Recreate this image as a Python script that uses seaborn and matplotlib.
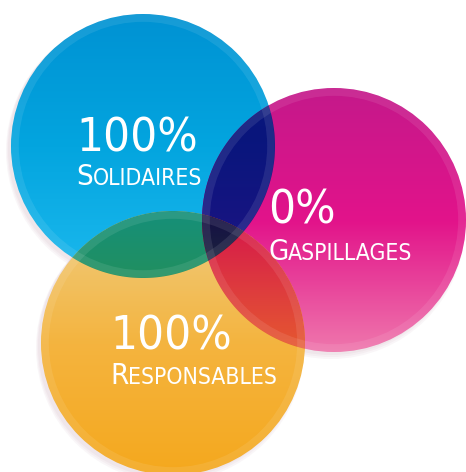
import numpy as np
import matplotlib
matplotlib.use("Agg")
import matplotlib.pyplot as plt
from matplotlib.patches import Circle, Polygon
from itertools import combinations
import seaborn as sns

# content of the picture
pct_values = [100, 0, 100]
words = ["Solidaires", "Gaspillages", "Responsables"]

# vertical colour stops of each disc (top -> bottom)
blue_stops = ["#0092d3", "#03a5df", "#1cb9ee"]
pink_stops = ["#c4198b", "#e2138a", "#ef78ad"]
yellow_stops = ["#efcd82", "#f4b43f", "#f5a81d"]

sns.set_theme(style="white")
plt.rcParams["font.family"] = ["DejaVu Sans"]
plt.rcParams["font.stretch"] = "condensed"

W, H = 466, 472
fig = plt.figure(figsize=(W / 100, H / 100), dpi=100)
ax = fig.add_axes([0, 0, 1, 1])

centers = [(143, 146), (334, 220), (173, 343)]
radius = 132
stops = [blue_stops, pink_stops, yellow_stops]

ys = np.arange(H) + 0.5
grads = []
for (cx, cy), st in zip(centers, stops):
    pal = np.array(sns.blend_palette(st, n_colors=256))
    t = np.clip((ys - (cy - radius)) / (2 * radius), 0, 1)
    grads.append(pal[(t * 255).astype(int)])


def region_poly(idx):
    pts = []
    th = np.linspace(0, 2 * np.pi, 1440, endpoint=False)
    for i in idx:
        cx, cy = centers[i]
        p = np.c_[cx + radius * np.cos(th), cy + radius * np.sin(th)]
        keep = np.ones(len(p), bool)
        for j in idx:
            if j != i:
                keep &= np.hypot(p[:, 0] - centers[j][0], p[:, 1] - centers[j][1]) <= radius + 1e-6
        pts.append(p[keep])
    pts = np.vstack(pts)
    m = pts.mean(0)
    order = np.argsort(np.arctan2(pts[:, 1] - m[1], pts[:, 0] - m[0]))
    return pts[order]


def paint(rows, patch, z):
    patch.set_facecolor("none")
    patch.set_edgecolor("none")
    ax.add_patch(patch)
    im = ax.imshow(rows[:, None, :], extent=(0, W, H, 0), aspect="auto",
                   interpolation="bilinear", zorder=z)
    im.set_clip_path(patch)


# soft shadow, mostly below-left
for (cx, cy) in centers:
    for k in range(3):
        ax.add_patch(Circle((cx - 3, cy + 3 + k), radius + k, fc="#9a5a78",
                            ec="none", alpha=0.05, zorder=0))

for i, (cx, cy) in enumerate(centers):
    paint(grads[i], Circle((cx, cy), radius), 1)

# overlaps: multiplied colours
for n in (2, 3):
    for idx in combinations(range(3), n):
        prod = np.prod([grads[i] for i in idx], axis=0)
        rows = 1 - 0.97 * (1 - prod)
        paint(rows, Polygon(region_poly(idx), closed=True), n)

# light inner ring on each disc
for (cx, cy) in centers:
    ax.add_patch(Circle((cx, cy), radius - 4, fill=False, ec="white",
                        alpha=0.09, lw=5.5, zorder=4))

text_pos = [(76, 152, 185), (268, 224, 260), (110, 350, 384)]
for v, w, (x, yb1, yb2) in zip(pct_values, words, text_pos):
    ax.text(x, yb1, f"{v}%", color="white", fontsize=34, ha="left",
            va="baseline", zorder=5)
    first = ax.text(x, yb2, w[0].upper(), color="white", fontsize=21,
                    ha="left", va="baseline", zorder=5)
    ax.annotate(w[1:].upper(), xy=(1, yb2), xycoords=(first, "data"),
                color="white", fontsize=16.5, ha="left", va="baseline", zorder=5)

ax.set_xlim(0, W)
ax.set_ylim(H, 0)
ax.axis("off")
fig.savefig("out.png", dpi=100)
